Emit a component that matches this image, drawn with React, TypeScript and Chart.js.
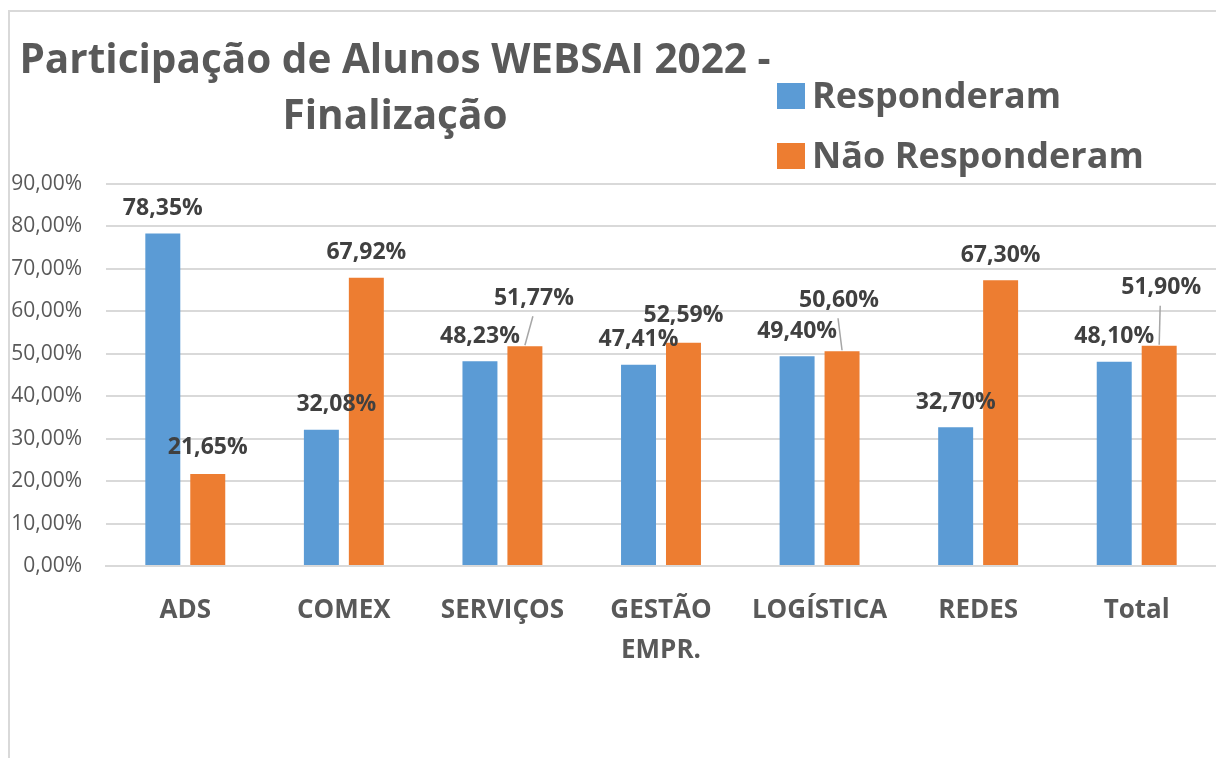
import { useEffect, useRef } from 'react';
import { Chart, registerables } from 'chart.js';

Chart.register(...registerables);

const categories: (string | string[])[] = ['ADS', 'COMEX', 'SERVIÇOS', ['GESTÃO', 'EMPR.'], 'LOGÍSTICA', 'REDES', 'Total'];
const responderam = [78.35, 32.08, 48.23, 47.41, 49.4, 32.7, 48.1];
const naoResponderam = [21.65, 67.92, 51.77, 52.59, 50.6, 67.3, 51.9];
const seriesNames = ['Responderam', 'Não Responderam'];
const titleLines = ['Participação de Alunos WEBSAI 2022 -', 'Finalização'];
const yMin = 0;
const yMax = 90;
const yStep = 10;

const COLORS = ['#5B9BD5', '#ED7D31'];
const TEXT = '#595959';
const LABEL = '#404040';
const GRID = '#d9d9d9';
const FONT = "'Open Sans', sans-serif";

// data label nudges relative to default spot above bar: [dx, dy, leaderLine]
const labelNudges: number[][][] = [
  [[0, 0, 0], [15, 0, 0], [0, 0, 0], [0, 0, 0], [0, 0, 0], [0, 0, 0], [0, 0, 0]],
  [[0, -2, 0], [0, 0, 0], [9, -23, 1], [0, -2, 0], [-3, -26, 1], [0, 0, 0], [2, -33, 1]],
];

const fmt = (v: number) => v.toFixed(2).replace('.', ',') + '%';

const decorPlugin = {
  id: 'decor',
  beforeDraw(chart: any) {
    const ctx = chart.ctx;
    ctx.save();
    ctx.fillStyle = '#ffffff';
    ctx.fillRect(0, 0, chart.width, chart.height);
    ctx.strokeStyle = GRID;
    ctx.lineWidth = 2;
    ctx.beginPath();
    ctx.moveTo(9, chart.height);
    ctx.lineTo(9, 11);
    ctx.lineTo(chart.width, 11);
    ctx.stroke();
    ctx.restore();
  },
  afterDraw(chart: any) {
    const ctx = chart.ctx;
    ctx.save();
    // title
    ctx.fillStyle = TEXT;
    ctx.font = `bold 40.5px ${FONT}`;
    ctx.textAlign = 'center';
    ctx.textBaseline = 'alphabetic';
    ctx.fillText(titleLines[0], 395, 73);
    ctx.fillText(titleLines[1], 395, 129);
    // legend
    ctx.textAlign = 'left';
    ctx.font = `bold 36px ${FONT}`;
    seriesNames.forEach((name, i) => {
      const y = 83 + i * 60;
      ctx.fillStyle = COLORS[i];
      ctx.fillRect(777, y, 28, 26);
      ctx.fillStyle = TEXT;
      ctx.fillText(name, 812, y + 25);
    });
    ctx.restore();
  },
  afterDatasetsDraw(chart: any) {
    const ctx = chart.ctx;
    ctx.save();
    ctx.font = `bold 23px ${FONT}`;
    ctx.textAlign = 'center';
    ctx.textBaseline = 'middle';
    chart.data.datasets.forEach((ds: any, di: number) => {
      const meta = chart.getDatasetMeta(di);
      meta.data.forEach((bar: any, i: number) => {
        const [dx, dy, leader] = labelNudges[di][i];
        const cx = bar.x + dx;
        const cy = bar.y - 25 + dy;
        if (leader) {
          ctx.strokeStyle = '#a6a6a6';
          ctx.lineWidth = 1.5;
          ctx.beginPath();
          ctx.moveTo(cx - 1, cy + 18);
          ctx.lineTo(bar.x, bar.y - 1);
          ctx.stroke();
        }
        ctx.fillStyle = LABEL;
        ctx.fillText(fmt(ds.data[i]), cx, cy);
      });
    });
    ctx.restore();
  },
};

export default function App() {
  const ref = useRef<HTMLCanvasElement | null>(null);
  useEffect(() => {
    if (!ref.current) return;
    const chart = new Chart(ref.current, {
      type: 'bar',
      data: {
        labels: categories,
        datasets: [
          { label: seriesNames[0], data: responderam, backgroundColor: COLORS[0] },
          { label: seriesNames[1], data: naoResponderam, backgroundColor: COLORS[1] },
        ],
      },
      options: {
        animation: false,
        responsive: true,
        maintainAspectRatio: false,
        layout: { padding: { top: 184, left: 0, right: 0, bottom: 0 } },
        datasets: { bar: { categoryPercentage: 0.567, barPercentage: 0.778 } } as any,
        plugins: {
          legend: { display: false },
          title: { display: false },
          tooltip: { enabled: false },
        },
        scales: {
          x: {
            grid: { display: false, drawTicks: false },
            border: { display: true, color: GRID, width: 2 },
            ticks: {
              color: TEXT,
              font: { family: FONT, size: 26, weight: 'bold', lineHeight: 1.55 },
              padding: 24,
              maxRotation: 0,
              autoSkip: false,
            },
            afterFit(scale: any) {
              scale.height = 192;
            },
          },
          y: {
            min: yMin,
            max: yMax,
            grid: { color: GRID, lineWidth: 2, drawTicks: false },
            border: { display: false },
            ticks: {
              stepSize: yStep,
              color: TEXT,
              font: { family: FONT, size: 21 },
              padding: 24,
              callback: (v: any) => fmt(Number(v)),
            },
            afterFit(scale: any) {
              scale.width = 106;
            },
          },
        },
      },
      plugins: [decorPlugin],
    });
    return () => chart.destroy();
  }, []);
  return (
    <div style={{ position: 'fixed', left: 0, top: 0, width: 1216, height: 758, background: '#fff' }}>
      <canvas ref={ref} />
    </div>
  );
}
